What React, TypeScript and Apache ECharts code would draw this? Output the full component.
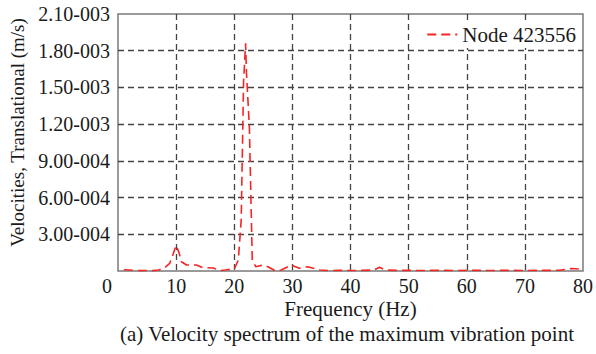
import React, { useEffect, useRef } from "react";
import * as echarts from "echarts";

const freqHz = [1, 2, 3, 4, 5, 6, 7, 8, 8.9, 9.5, 10, 10.5, 10.9, 11.8, 13.5, 14.6, 16.4, 17.5, 18.5, 19.5, 20, 20.7, 21.2, 21.6, 21.95, 22.1, 22.6, 23.1, 23.7, 24.9, 25.8, 27, 28.1, 29.8, 31.2, 32.6, 34.7, 36, 38, 40, 42, 44, 45, 46, 48, 50, 52, 54, 56, 58, 60, 62, 64, 66, 68, 70, 72, 74, 76, 78, 79.6];
const velocity = [1.0e-5, 8e-6, 4e-6, 3e-6, 4e-6, 3e-6, 8e-6, 2.5e-5, 6.3e-5, 1.4e-4, 2.1e-4, 1.5e-4, 7.6e-5, 4.9e-5, 4.9e-5, 2.7e-5, 2.5e-5, 3e-6, 8e-6, 1.6e-5, 1.5e-5, 9e-5, 4.2e-4, 1.54e-3, 1.86e-3, 1.62e-3, 1.18e-3, 9e-5, 3.5e-5, 4.9e-5, 3.5e-5, 3e-6, 8e-6, 4.9e-5, 2.2e-5, 3.5e-5, 8e-6, 4e-6, 5e-6, 4e-6, 5e-6, 8e-6, 3e-5, 8e-6, 5e-6, 5e-6, 4e-6, 5e-6, 5e-6, 4e-6, 5e-6, 5e-6, 4e-6, 5e-6, 5e-6, 4e-6, 5e-6, 5e-6, 6e-6, 2e-5, 1.6e-5];
const seriesName = "Node 423556";
const xTitle = "Frequency (Hz)";
const yTitle = "Velocities, Translational (m/s)";
const caption = "(a) Velocity spectrum of the maximum vibration point";

function fmtSci(v: number): string {
  if (v === 0) return "";
  let exp = Math.floor(Math.log10(v) + 1e-9);
  let mant = v / Math.pow(10, exp);
  if (Number(mant.toFixed(2)) >= 10) {
    exp += 1;
    mant = v / Math.pow(10, exp);
  }
  const e = Math.abs(exp).toString().padStart(3, "0");
  return mant.toFixed(2) + (exp < 0 ? "-" : "+") + e;
}

export default function App() {
  const ref = useRef<HTMLDivElement>(null);
  useEffect(() => {
    if (!ref.current) return;
    const chart = echarts.init(ref.current, undefined, { renderer: "svg" });
    const font = "'Liberation Serif', 'Times New Roman', serif";
    const ink = "#1a1a1a";
    chart.setOption({
      animation: false,
      backgroundColor: "#fff",
      textStyle: { fontFamily: font, color: ink },
      grid: {
        left: 118,
        right: 12,
        top: 14,
        bottom: 83,
        show: true,
        borderColor: "#7a7a7a",
        borderWidth: 1.5,
        backgroundColor: "transparent",
      },
      legend: {
        right: 16,
        top: 21,
        backgroundColor: "#fff",
        padding: [3, 4, 3, 4],
        itemWidth: 30,
        itemHeight: 12,
        itemGap: 4,
        itemStyle: { opacity: 0 },
        textStyle: { fontFamily: font, fontSize: 21, color: ink },
        data: [seriesName],
      },
      xAxis: {
        type: "value",
        min: 0,
        max: 80,
        interval: 10,
        name: xTitle,
        nameLocation: "middle",
        nameGap: 27,
        nameMoveOverlap: false,
        nameTextStyle: { fontFamily: font, fontSize: 21, color: ink },
        axisLine: { show: false },
        axisTick: { show: false },
        axisLabel: {
          fontFamily: font,
          fontSize: 20,
          color: ink,
          margin: 5,
          formatter: (v: number) => (v === 0 ? "{z|0}" : String(v)),
          rich: { z: { fontFamily: font, fontSize: 20, color: ink, padding: [0, 22, 0, 0] } },
        },
        splitLine: {
          show: true,
          showMinLine: false,
          showMaxLine: false,
          lineStyle: { color: "#444", type: [6, 4], width: 1.3 },
        },
      },
      yAxis: {
        type: "value",
        min: 0,
        max: 2.1e-3,
        interval: 3e-4,
        name: yTitle,
        nameLocation: "middle",
        nameGap: 91,
        nameMoveOverlap: false,
        nameTextStyle: { fontFamily: font, fontSize: 19, color: ink, padding: [0, 0, 0, 20] },
        axisLine: { show: false },
        axisTick: { show: false },
        axisLabel: {
          fontFamily: font,
          fontSize: 20,
          color: ink,
          margin: 8,
          formatter: (v: number) => fmtSci(v),
        },
        splitLine: {
          show: true,
          showMinLine: false,
          showMaxLine: false,
          lineStyle: { color: "#444", type: [6, 4], width: 1.3 },
        },
      },
      series: [
        {
          name: seriesName,
          type: "line",
          data: freqHz.map((f, i) => [f, velocity[i]]),
          showSymbol: false,
          symbol: "none",
          lineStyle: { color: "#f52525", width: 1.6, type: [9, 5] },
          itemStyle: { color: "#f52525" },
        },
      ],
      graphic: [
        {
          type: "text",
          x: 347,
          y: 334,
          style: {
            text: caption,
            fontFamily: font,
            fontSize: 21,
            fill: ink,
            align: "center",
            verticalAlign: "middle",
          },
        },
      ],
    });
    return () => chart.dispose();
  }, []);
  return <div ref={ref} style={{ width: 596, height: 354, position: "absolute", left: 0, top: 0 }} />;
}
